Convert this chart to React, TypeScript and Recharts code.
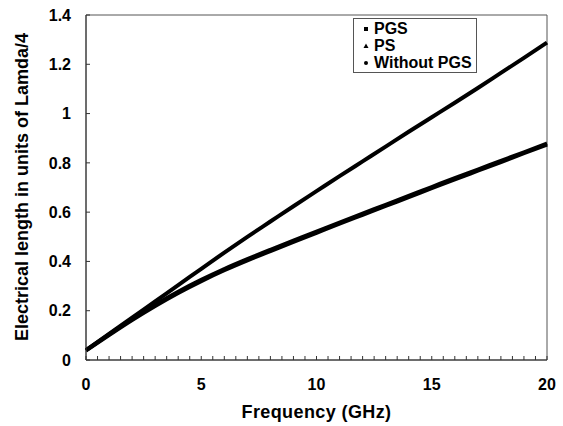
import {
  LineChart,
  Line,
  XAxis,
  YAxis,
  Legend,
  ReferenceArea,
} from "recharts";

// frequency in GHz
const freq = [0, 1, 2, 3, 4, 5, 6, 7, 8, 9, 10, 11, 12, 13, 14, 15, 16, 17, 18, 19, 20];

// electrical length in units of lambda/4
const pgs = [
  0.04, 0.106, 0.172, 0.238, 0.304, 0.37, 0.436, 0.5, 0.562, 0.624, 0.685,
  0.746, 0.806, 0.866, 0.926, 0.985, 1.044, 1.104, 1.165, 1.226, 1.288,
];
const ps = [
  0.04, 0.104, 0.166, 0.224, 0.277, 0.325, 0.369, 0.409, 0.447, 0.484, 0.521,
  0.558, 0.594, 0.63, 0.666, 0.702, 0.738, 0.773, 0.808, 0.843, 0.879,
];
const withoutPgs = [
  0.038, 0.101, 0.162, 0.219, 0.272, 0.32, 0.364, 0.404, 0.442, 0.479, 0.516,
  0.553, 0.589, 0.625, 0.661, 0.697, 0.733, 0.768, 0.803, 0.839, 0.874,
];

const xTicks = [
  0, 0.5, 1, 1.5, 2, 2.5, 3, 3.5, 4, 4.5, 5, 5.5, 6, 6.5, 7, 7.5, 8, 8.5, 9,
  9.5, 10, 10.5, 11, 11.5, 12, 12.5, 13, 13.5, 14, 14.5, 15, 15.5, 16, 16.5,
  17, 17.5, 18, 18.5, 19, 19.5, 20,
];
const xLabelTicks = [0, 5, 10, 15, 20];
const yTicks = [0, 0.2, 0.4, 0.6, 0.8, 1, 1.2, 1.4];

const legendItems = [
  { name: "PGS", shape: "square" },
  { name: "PS", shape: "triangle" },
  { name: "Without PGS", shape: "dot" },
];

const data = freq.map((f, i) => ({
  f,
  pgs: pgs[i],
  ps: ps[i],
  withoutPgs: withoutPgs[i],
}));

const FONT = "'Liberation Sans', Arial, sans-serif";

function Marker({ shape }: { shape: string }) {
  return (
    <svg width={6} height={6} style={{ marginRight: 5, marginLeft: 9, flexShrink: 0 }}>
      {shape === "square" && <rect x={1} y={1} width={4} height={4} fill="#000" />}
      {shape === "triangle" && <polygon points="3,0.5 5.5,5 0.5,5" fill="#000" />}
      {shape === "dot" && <circle cx={3} cy={3} r={2} fill="#000" />}
    </svg>
  );
}

function renderLegend() {
  return (
    <div
      style={{
        border: "1px solid #555",
        background: "#fff",
        width: 124,
        height: 55,
        paddingTop: 1,
        boxSizing: "border-box",
        fontFamily: FONT,
        fontWeight: "bold",
        fontSize: 16,
        lineHeight: "17px",
        color: "#000",
        whiteSpace: "nowrap",
      }}
    >
      {legendItems.map((it) => (
        <div key={it.name} style={{ display: "flex", alignItems: "center", height: 17 }}>
          <Marker shape={it.shape} />
          <span>{it.name}</span>
        </div>
      ))}
    </div>
  );
}

export default function App() {
  return (
    <div
      style={{
        position: "absolute",
        left: 0,
        top: 0,
        width: 563,
        height: 426,
        background: "#fff",
      }}
    >
      <LineChart
        width={563}
        height={426}
        data={data}
        margin={{ top: 15, right: 16, bottom: 16, left: 26 }}
      >
        <ReferenceArea
          x1={0}
          x2={20}
          y1={0}
          y2={1.4}
          fill="none"
          stroke="#555"
          strokeWidth={1}
        />
        <XAxis
          dataKey="f"
          type="number"
          domain={[0, 20]}
          ticks={xTicks}
          interval={0}
          height={50}
          tickSize={-4}
          tickMargin={23}
          stroke="#333"
          tickFormatter={(v: number) => (xLabelTicks.includes(v) ? String(v) : "")}
          tick={{ fill: "#000", fontSize: 16, fontWeight: "bold", fontFamily: FONT }}
          label={(props: any) => {
            const vb = props.viewBox || { x: 86, width: 461, y: 360 };
            return (
              <text
                x={vb.x + vb.width / 2}
                y={418}
                textAnchor="middle"
                fontFamily={FONT}
                fontWeight="bold"
                fontSize={18}
                letterSpacing={0.4}
                fill="#000"
              >
                Frequency (GHz)
              </text>
            );
          }}
        />
        <YAxis
          type="number"
          domain={[0, 1.4]}
          ticks={yTicks}
          interval={0}
          width={60}
          tickSize={-4}
          tickMargin={19}
          stroke="#333"
          tick={{ fill: "#000", fontSize: 16, fontWeight: "bold", fontFamily: FONT }}
          label={() => (
            <text
              x={0}
              y={0}
              transform="translate(28, 187) rotate(-90)"
              textAnchor="middle"
              fontFamily={FONT}
              fontWeight="bold"
              fontSize={18}
              fill="#000"
            >
              Electrical length in units of Lamda/4
            </text>
          )}
        />
        <Legend
          layout="vertical"
          align="center"
          verticalAlign="middle"
          content={renderLegend}
          wrapperStyle={{ position: "absolute", left: 353, top: 18, width: 124 }}
        />
        <Line
          dataKey="pgs"
          name="PGS"
          type="monotone"
          stroke="#000"
          strokeWidth={4}
          dot={false}
          isAnimationActive={false}
        />
        <Line
          dataKey="ps"
          name="PS"
          type="monotone"
          stroke="#000"
          strokeWidth={4}
          dot={false}
          isAnimationActive={false}
        />
        <Line
          dataKey="withoutPgs"
          name="Without PGS"
          type="monotone"
          stroke="#000"
          strokeWidth={4}
          dot={false}
          isAnimationActive={false}
        />
      </LineChart>
    </div>
  );
}
